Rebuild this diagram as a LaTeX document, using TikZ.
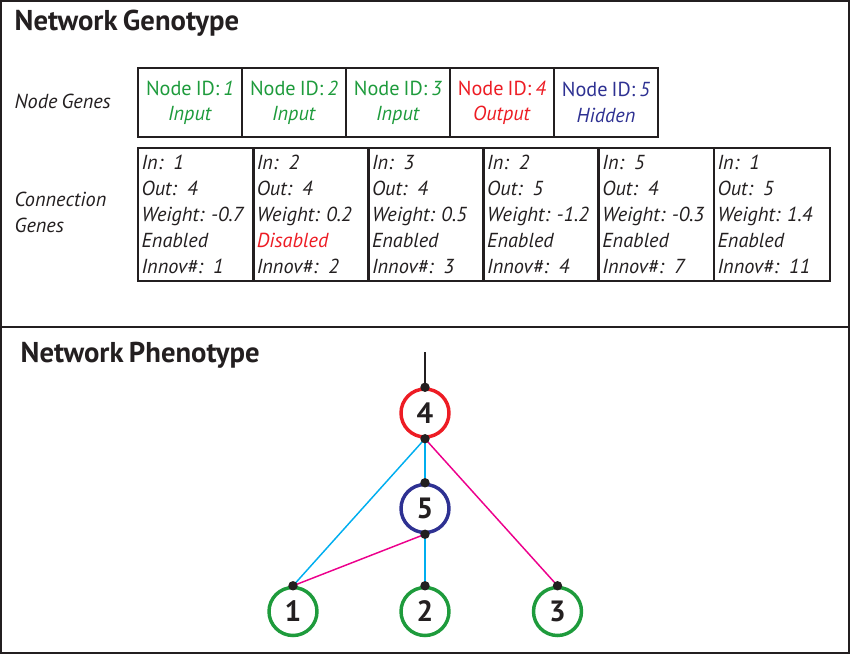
\documentclass[tikz,border=0pt]{standalone}
\usepackage{fontspec}
\setmainfont{PT Sans}[WordSpace=0.75]
\usetikzlibrary{positioning}

\definecolor{ingreen}{RGB}{30,155,60}
\definecolor{outred}{RGB}{237,28,36}
\definecolor{hidblue}{RGB}{46,49,146}
\definecolor{negcyan}{RGB}{0,174,239}
\definecolor{posmag}{RGB}{236,0,140}
\definecolor{ink}{RGB}{35,31,32}

\begin{document}
\begin{tikzpicture}[x=0.75pt, y=-0.75pt, ink,
    heading/.style={font=\bfseries\fontsize{21.5}{26}\selectfont, anchor=west},
    rowlabel/.style={font=\itshape\fontsize{15.2}{19.5}\selectfont, align=left, anchor=west},
    nodegene/.style={draw, line width=1.4pt, minimum width=78pt, minimum height=51.75pt,
        inner sep=0pt, align=center, font=\fontsize{15.2}{19}\selectfont},
    conngene/.style={draw, line width=1.4pt, minimum width=86.6pt, minimum height=99.75pt,
        inner sep=3pt, text width=81pt, align=left, font=\itshape\fontsize{15.2}{19.5}\selectfont},
    neuron/.style={circle, draw, line width=2.6pt, minimum size=36pt, inner sep=0pt,
        font=\bfseries\fontsize{22}{24}\selectfont},
    neglink/.style={negcyan, line width=1.1pt},
    poslink/.style={posmag, line width=1.1pt},
    pindot/.style={ink}]
    \useasboundingbox (0,0) rectangle (850,654);
    \draw[line width=1.5pt] (1,1) rectangle (849,653);
    \draw[line width=1.5pt] (0,327) -- (850,327);

    % genotype
    \node[heading] (geno) at (10,23) {Network Genotype};
    \node[rowlabel] (nglabel) at (10,101) {Node Genes};
    \node[rowlabel] (cglabel) at (10,212) {Connection\\Genes};
    \foreach \i/\c/\t in {1/ingreen/Input, 2/ingreen/Input, 3/ingreen/Input,
                          4/outred/Output, 5/hidblue/Hidden}
        \node[nodegene, text=\c] (ng\i) at ({138+104*(\i-1)+52},102.5)
            {Node ID: \textit{\i}\\\textit{\t}};
    \foreach \i/\a/\b/\w/\e/\n in {1/1/4/-0.7/Enabled/1, 2/2/4/0.2/{\textcolor{outred}{Disabled}}/2,
                                   3/3/4/0.5/Enabled/3, 4/2/5/-1.2/Enabled/4,
                                   5/5/4/-0.3/Enabled/7, 6/1/5/1.4/Enabled/11}
        \node[conngene] (cg\i) at ({138+115.2*(\i-1)+57.6},214.5)
            {In: \a\\Out: \b\\Weight:~\mbox{\w}\\\e\\Innov\#: \n};

    % phenotype
    \node[heading] (pheno) at (16,355) {Network Phenotype};
    \node[neuron, draw=outred] (n4) at (425,413) {4};
    \node[neuron, draw=hidblue] (n5) at (425,508.5) {5};
    \node[neuron, draw=ingreen] (n1) at (293,611.5) {1};
    \node[neuron, draw=ingreen] (n2) at (425,611.5) {2};
    \node[neuron, draw=ingreen] (n3) at (557.5,611.5) {3};
    \coordinate (out) at (425,352);

    \draw[line width=2.2pt] (out) -- (n4.north);
    \draw[neglink] (n4.south) -- (n1.north);
    \draw[neglink] (n4.south) -- (n5.north);
    \draw[poslink] (n4.south) -- (n3.north);
    \draw[poslink] (n5.south) -- (n1.north);
    \draw[neglink] (n5.south) -- (n2.north);
    \foreach \p in {n4.north, n4.south, n5.north, n5.south, n1.north, n2.north, n3.north}
        \fill[pindot] (\p) circle (4.7);
\end{tikzpicture}
\end{document}
